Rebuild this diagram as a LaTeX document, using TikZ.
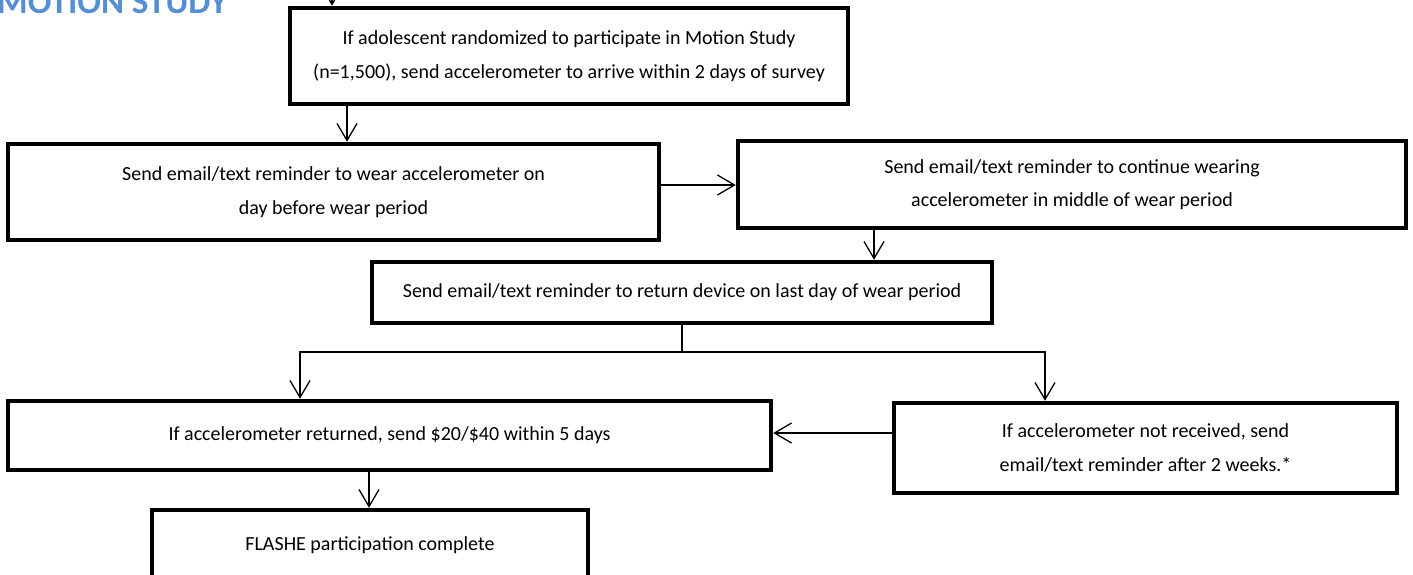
\documentclass[tikz,border=0pt]{standalone}
\usepackage{fontspec}
\setmainfont{Carlito}
\usetikzlibrary{arrows.meta}
\definecolor{titleblue}{RGB}{85,142,213}
\tikzset{
  box/.style={draw, line width=4.5pt, rectangle, align=center, inner sep=0pt,
    font=\fontsize{20}{33.5}\selectfont, text=black},
  conn/.style={line width=1.3pt, -{Straight Barb[length=17pt,width=20pt,line width=1.3pt]}},
  plain/.style={line width=1.3pt},
}
\begin{document}
\begin{tikzpicture}[x=1pt,y=-1pt]
\clip (0,0) rectangle (1413,574);
\node[anchor=base west, inner sep=0pt, font=\fontsize{35}{40}\selectfont\bfseries, text=titleblue] (title) at (-3,13) {MOTION STUDY};

\node[box, minimum width=558pt, minimum height=96pt] (b1) at (569,56)
  {If adolescent randomized to participate in Motion Study\\(n=1,500), send accelerometer to arrive within 2 days of survey};
\node[box, minimum width=651pt, minimum height=96pt] (b2) at (333.5,192)
  {Send email/text reminder to wear accelerometer on\\day before wear period};
\node[box, minimum width=668pt, minimum height=87pt] (b3) at (1072,184.5)
  {Send email/text reminder to continue wearing\\accelerometer in middle of wear period};
\node[box, minimum width=620pt, minimum height=61pt] (b4) at (682,292.5)
  {Send email/text reminder to return device on last day of wear period};
\node[box, minimum width=763pt, minimum height=69pt] (b5) at (389.5,435.5)
  {If accelerometer returned, send \$20/\$40 within 5 days};
\node[box, minimum width=503pt, minimum height=90pt] (b6) at (1145.5,448)
  {If accelerometer not received, send\\email/text reminder after 2 weeks.*};
\node[box, minimum width=436pt, minimum height=70pt] (b7) at (370,545)
  {FLASHE participation complete};

\coordinate (in) at (332,-3);
\coordinate (x347) at (347,0);
\coordinate (y185) at (0,185);
\coordinate (x874) at (874,0);
\coordinate (split) at (682,352);
\coordinate (sl) at (300,352);
\coordinate (sr) at (1045,352);
\coordinate (y433) at (0,433);
\coordinate (x369) at (369,0);

\draw[conn] (in) -- (in |- b1.north);
\draw[conn] (x347 |- b1.south) -- (x347 |- b2.north);
\draw[conn] (b2.east |- y185) -- (b3.west |- y185);
\draw[conn] (x874 |- b3.south) -- (x874 |- b4.north);
\draw[plain] (b4.south) -- (split);
\draw[conn] (split) -| (sl |- b5.north);
\draw[conn] (split) -| (sr |- b6.north);
\draw[conn] (b6.west |- y433) -- (b5.east |- y433);
\draw[conn] (x369 |- b5.south) -- (x369 |- b7.north);
\end{tikzpicture}
\end{document}
